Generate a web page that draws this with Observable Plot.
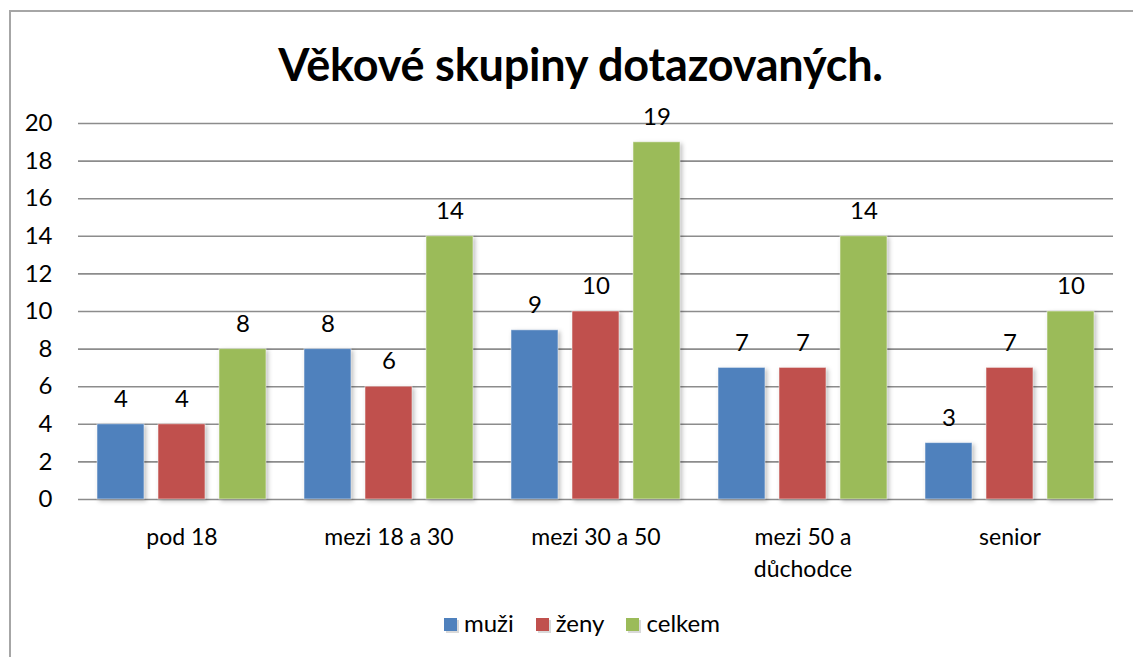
<!DOCTYPE html>
<html>
<head>
<meta charset="utf-8">
<script src="https://cdn.jsdelivr.net/npm/d3@7"></script>
<script src="https://cdn.jsdelivr.net/npm/@observablehq/plot@0.6"></script>
<style>
  html, body { margin: 0; padding: 0; background: #fff; width: 1133px; height: 657px; overflow: hidden; font-family: Lato, "Open Sans", sans-serif; }
  #frame { position: absolute; left: 9px; top: 10px; width: 1200px; height: 700px; border-left: 2px solid #a6a6a6; border-top: 2px solid #a6a6a6; }
  #title { position: absolute; left: 0; width: 1161px; top: 37px; text-align: center; font-size: 45px; font-weight: 700; color: #000; letter-spacing: -0.2px; }
  #chart { position: absolute; left: 0; top: 0; }
  #legend { position: absolute; left: 0; width: 1164px; top: 608px; text-align: center; font-size: 24px; color: #000; }
  .item { display: inline-block; margin: 0 11px; }
  .sw { display: inline-block; width: 13px; height: 13px; margin-right: 7px; vertical-align: 1px; box-shadow: 2px 2px 0 #d9d9d9; }
  g[aria-label="bar"] rect { filter: drop-shadow(2px 2px 2px rgba(0,0,0,0.25)); }
</style>
</head>
<body>
<div id="frame"></div>
<div id="title">Věkové skupiny dotazovaných.</div>
<div id="chart"></div>
<div id="legend"></div>
<script>
const categories = ["pod 18", "mezi 18 a 30", "mezi 30 a 50", "mezi 50 a důchodce", "senior"];
const categoryLabels = ["pod 18", "mezi 18 a 30", "mezi 30 a 50", "mezi 50 a\ndůchodce", "senior"];
const series = ["muži", "ženy", "celkem"];
const colors = ["#4F81BD", "#C0504D", "#9BBB59"];
const muzi = [4, 8, 9, 7, 3];
const zeny = [4, 6, 10, 7, 7];
const celkem = [8, 14, 19, 14, 10];
const yTicks = [0, 2, 4, 6, 8, 10, 12, 14, 16, 18, 20];

const values = [muzi, zeny, celkem];
const data = [];
categories.forEach((c, i) => series.forEach((s, j) => data.push({category: c, series: s, value: values[j][i]})));

const chart = Plot.plot({
  width: 1133,
  height: 600,
  marginTop: 123,
  marginBottom: 101,
  marginLeft: 78,
  marginRight: 20,
  style: {fontFamily: "Lato, 'Open Sans', sans-serif", fontSize: "23px", color: "#000", background: "transparent"},
  fx: {domain: categories, padding: 0, label: null},
  x: {domain: series, paddingInner: 0.23, paddingOuter: 0.31, axis: null},
  y: {domain: [0, 20], label: null},
  color: {domain: series, range: colors},
  marks: [
    Plot.ruleY(yTicks, {stroke: "#8c8c8c", strokeWidth: 1.6}),
    Plot.barY(data, {fx: "category", x: "series", y: "value", fill: "series", stroke: "#ffffff", strokeOpacity: 0.5, strokeWidth: 1}),
    Plot.text(data, {fx: "category", x: "series", y: "value", text: d => String(d.value), dy: -25, fontSize: 24, fill: "#000"}),
    Plot.axisY({ticks: yTicks, tickSize: 0, tickPadding: 26, fontSize: 24, label: null}),
    Plot.axisFx({anchor: "bottom", tickSize: 0, tickPadding: 22, label: null, lineHeight: 1.42,
      tickFormat: d => categoryLabels[categories.indexOf(d)]})
  ]
});
document.getElementById("chart").appendChild(chart);

const legend = document.getElementById("legend");
series.forEach((s, i) => {
  const item = document.createElement("span");
  item.className = "item";
  const sw = document.createElement("span");
  sw.className = "sw";
  sw.style.background = colors[i];
  item.appendChild(sw);
  item.appendChild(document.createTextNode(s));
  legend.appendChild(item);
});
</script>
</body>
</html>
